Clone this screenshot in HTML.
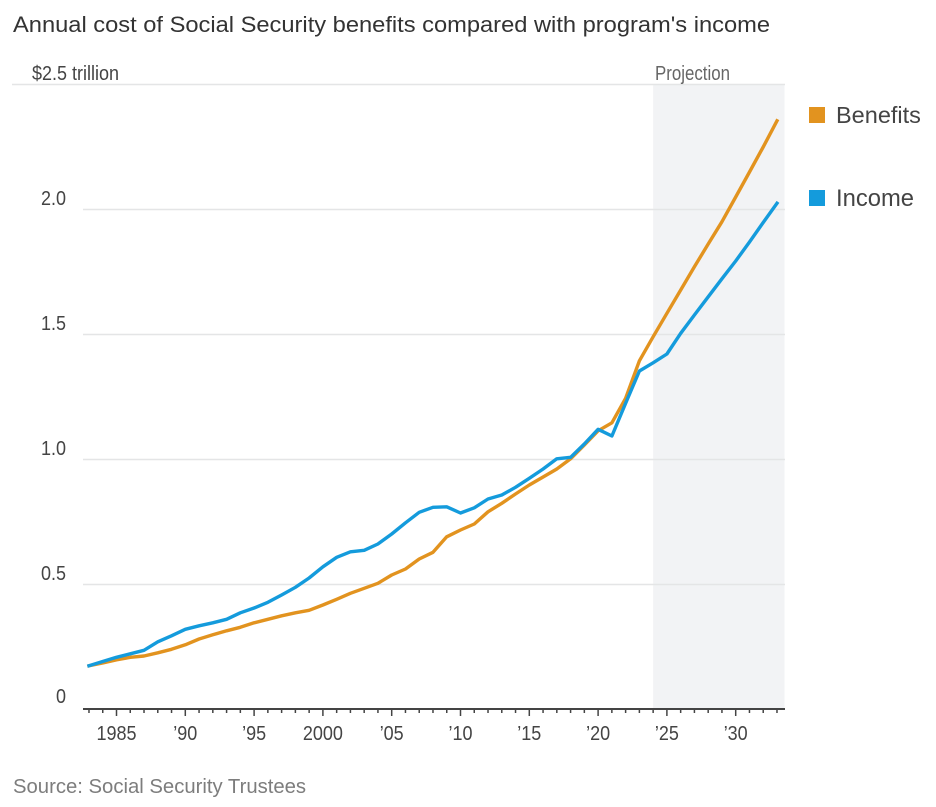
<!DOCTYPE html>
<html>
<head>
<meta charset="utf-8">
<title>Annual cost of Social Security benefits compared with program's income</title>
<style>
html,body{margin:0;padding:0;background:#fff;}
body{width:936px;height:807px;overflow:hidden;font-family:"Liberation Sans",sans-serif;}
svg{display:block;}
text{font-family:"Liberation Sans",sans-serif;}
</style>
</head>
<body>
<svg id="chart" width="936" height="807" viewBox="0 0 936 807" xmlns="http://www.w3.org/2000/svg">
  <text x="13" y="32" font-size="22.2" fill="#333" textLength="757" lengthAdjust="spacingAndGlyphs">Annual cost of Social Security benefits compared with program's income</text>
  <rect id="band" y="84" height="625" fill="#f2f3f5"></rect>
  <g id="grid"></g>
  <g id="ylabels"></g>
  <text id="proj" x="655" y="80" font-size="20" fill="#666" textLength="75" lengthAdjust="spacingAndGlyphs">Projection</text>
  <g id="axis"></g>
  <polyline id="benefits" fill="none" stroke="#e2931f" stroke-width="3.4" stroke-linejoin="round" stroke-linecap="square"></polyline>
  <polyline id="income" fill="none" stroke="#149bdc" stroke-width="3.4" stroke-linejoin="round" stroke-linecap="square"></polyline>
  <rect x="809" y="107" width="16" height="16" fill="#e2931f"></rect>
  <text x="836" y="123" font-size="23.5" fill="#444">Benefits</text>
  <rect x="809" y="190" width="16" height="16" fill="#149bdc"></rect>
  <text x="836" y="206" font-size="23.8" fill="#444">Income</text>
  <text x="13" y="793" font-size="20.3" fill="#7d7d7d">Source: Social Security Trustees</text>
</svg>
<script>
var startYear = 1983;
var projectionStartYear = 2024;
var incomeValues = [0.175,0.192,0.209,0.223,0.237,0.271,0.295,0.321,0.335,0.347,0.361,0.387,0.406,0.429,0.458,0.489,0.526,0.571,0.609,0.631,0.637,0.662,0.702,0.747,0.789,0.809,0.811,0.786,0.807,0.842,0.858,0.889,0.925,0.962,1.003,1.009,1.062,1.121,1.094,1.225,1.354,1.387,1.422,1.505,1.578,1.651,1.723,1.794,1.870,1.948,2.025];
var benefitValues = [0.175,0.186,0.199,0.209,0.214,0.227,0.241,0.259,0.282,0.299,0.315,0.329,0.347,0.361,0.375,0.387,0.397,0.418,0.441,0.465,0.485,0.505,0.538,0.562,0.602,0.629,0.691,0.718,0.742,0.791,0.825,0.862,0.898,0.930,0.962,1.003,1.058,1.115,1.147,1.245,1.395,1.491,1.585,1.678,1.771,1.862,1.951,2.050,2.150,2.250,2.355];
var yTicks = [0,0.5,1,1.5,2,2.5];
var yTickLabels = ["0","0.5","1.0","1.5","2.0","$2.5 trillion"];
var xTickYears = [1985,1990,1995,2000,2005,2010,2015,2020,2025,2030];
var xTickLabels = ["1985","\u201990","\u201995","2000","\u201905","\u201910","\u201915","\u201920","\u201925","\u201930"];

var NS = "http://www.w3.org/2000/svg";
function xScale(year){ return 116.5 + (year - 1985) * 13.76; }
function yScale(v){ return 709.5 - v * 250; }
function make(tag, parent){
  var el = document.createElementNS(NS, tag);
  parent.appendChild(el);
  return el;
}
function narrow(el){
  el.setAttribute("textLength", (el.getComputedTextLength() * 0.9).toFixed(1));
  el.setAttribute("lengthAdjust", "spacingAndGlyphs");
}
function points(values){
  return values.map(function(v, i){
    return xScale(startYear + i).toFixed(1) + "," + yScale(v).toFixed(1);
  }).join(" ");
}

var band = document.getElementById("band");
band.setAttribute("x", xScale(projectionStartYear));
band.setAttribute("width", 784.5 - xScale(projectionStartYear));

var grid = document.getElementById("grid");
var ylabels = document.getElementById("ylabels");
yTicks.forEach(function(t, i){
  var lbl = make("text", ylabels);
  
  
  lbl.setAttribute("y", t === 0 ? 703 : yScale(t) - 4.5);
  lbl.setAttribute("font-size", "20");
  lbl.setAttribute("fill", "#444");
  lbl.textContent = yTickLabels[i];
  var top = t === yTicks[yTicks.length - 1];
  lbl.setAttribute("x", 32);
  narrow(lbl);
  if (!top) {
    lbl.setAttribute("text-anchor", "end");
    lbl.setAttribute("x", 66);
  }
  if (t === 0) return;
  var ln = make("line", grid);
  
  
  ln.setAttribute("x1", top ? 12 : 83);
  ln.setAttribute("x2", 785);
  ln.setAttribute("y1", yScale(t));
  ln.setAttribute("y2", yScale(t));
  ln.setAttribute("stroke", "#e4e5e6");
  ln.setAttribute("stroke-width", "1.5");
});

var axis = document.getElementById("axis");
var base = make("line", axis);


base.setAttribute("x1", 83);
base.setAttribute("x2", 785);
base.setAttribute("y1", 709);
base.setAttribute("y2", 709);
base.setAttribute("stroke", "#444");
base.setAttribute("stroke-width", "2");

var n = incomeValues.length;
for (var i = 0; i < n; i++) {
  var yr = startYear + i;
  var major = xTickYears.indexOf(yr) >= 0;
  var tk = make("line", axis);
  
  
  tk.setAttribute("x1", xScale(yr));
  tk.setAttribute("x2", xScale(yr));
  tk.setAttribute("y1", 709);
  tk.setAttribute("y2", major ? 716 : 713);
  tk.setAttribute("stroke", "#444");
  tk.setAttribute("stroke-width", "1.5");
}
xTickYears.forEach(function(yr, i){
  var lbl = make("text", axis);
  
  
  lbl.setAttribute("y", 740);
  lbl.setAttribute("font-size", "20");
  lbl.setAttribute("fill", "#444");
  lbl.textContent = xTickLabels[i];
  lbl.setAttribute("x", xScale(yr));
  narrow(lbl);
  lbl.setAttribute("text-anchor", "middle");
});

document.getElementById("benefits").setAttribute("points", points(benefitValues));
document.getElementById("income").setAttribute("points", points(incomeValues));
</script>
</body>
</html>
